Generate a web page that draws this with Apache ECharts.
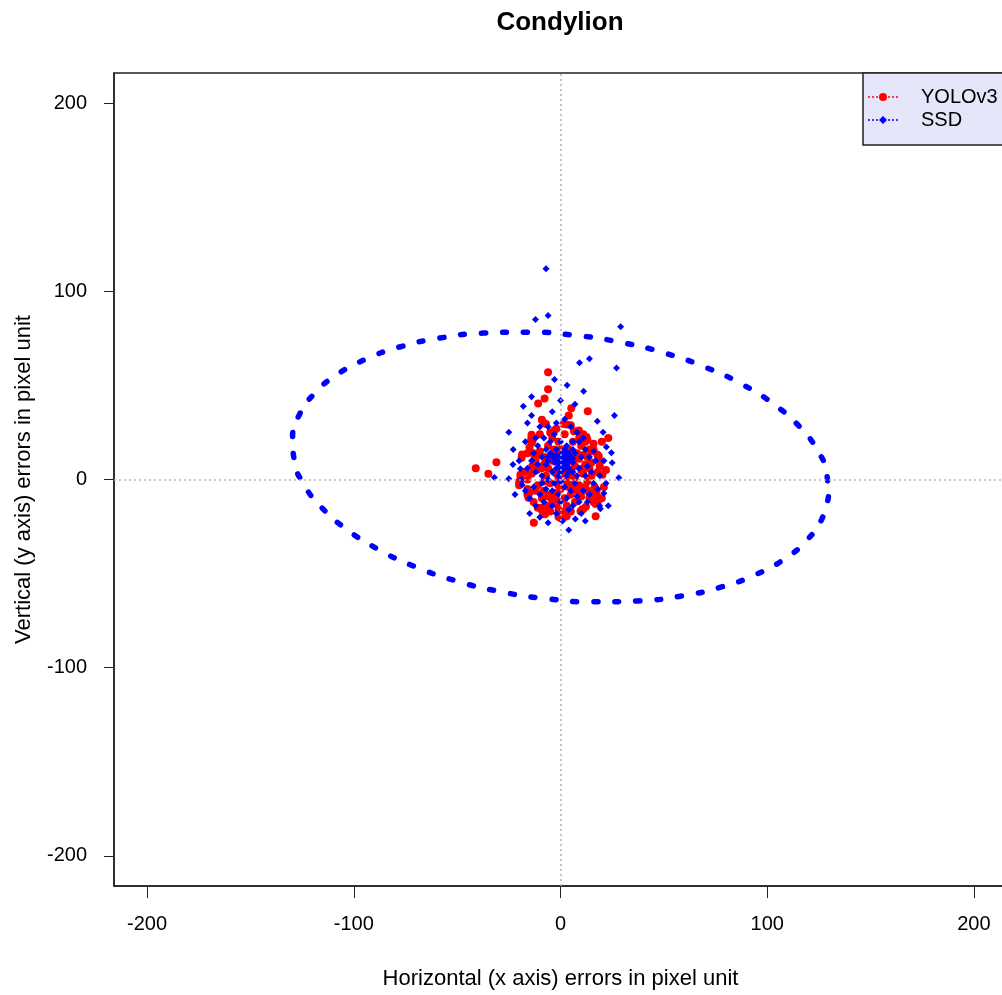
<!DOCTYPE html>
<html>
<head>
<meta charset="utf-8">
<title>Condylion</title>
<script src="https://cdn.jsdelivr.net/npm/echarts@6.0.0/dist/echarts.min.js"></script>
<style>
* {
  margin: 0;
  padding: 0;
}
#chartId {
  width: 1002px;
  height: 995px;
  background: #fff;
}
</style>
</head>
<body>
<div id="chartId"></div>
<script>
// tick positions on both axes
let tickValues = [-200, -100, 0, 100, 200];

// YOLOv3 errors [x, y] in pixel unit
let yoloPoints = [
  [-6, 57], [-6, 48], [-7.7, 43], [-10.8, 40.4], [5.2, 37.9], [13.2, 36.3], [4, 34], [-9, 31.7],
  [-8, 30], [-7, 29.5], [1.5, 29.5], [3, 29.2], [5, 28.8], [-14, 22.8], [-14.2, 21], [-14, 19.5],
  [6.5, 25.7], [8.9, 26], [11, 24], [12.6, 22.6], [23.1, 22.1], [-18.6, 13.3], [-18.8, 11.5],
  [-31, 9.2], [-41, 6], [-34.9, 3], [-19.4, 2.5], [-19.4, 0.7], [-19.5, -1], [17.8, 13.3],
  [18.2, 11.5], [16, 15.9], [20.3, 2.5], [-13.7, 7], [-11.4, 5], [-16, -8], [-15.5, -9.7],
  [-9.1, -15.9], [-8.3, -17.3], [-7.5, -18.5], [-12.9, -23], [-1, -19.8], [1, -20], [3, -19.5],
  [9.7, -16.9], [11, -15.7], [12.3, -14.5], [17, -19.5], [16.2, -5.3], [17, -7], [17.5, -8.5],
  [-10, 15], [-8, 12], [-6, 18], [-4, 10], [-2, 14], [0, 8], [2, 12], [4, 16], [6, 10], [8, 14],
  [10, 18], [12, 8], [-12, 10], [-9, 6], [-7, 2], [-5, -2], [-3, 4], [-1, 0], [1, 3], [3, -1],
  [5, 5], [7, 1], [9, -3], [11, 3], [13, -1], [14, 6], [-11, -3], [-8, -6], [-6, -9], [-3, -7],
  [0, -5], [2, -10], [5, -8], [7, -12], [10, -9], [-2, -13], [-4, -11], [3, -14], [8, -6],
  [12, -4], [15, 2], [-14, 3], [-12, -6], [-9, -10], [6, 20], [9, 22], [-4, 22], [-1, 20],
  [2, 24], [-10, 24], [-2, 3], [0, 11], [1, 6], [-1, -3], [4, 2], [6, -3], [-6, 6], [-8, -1],
  [3, 8], [-3, 16], [1, 16], [7, 7], [9, 11], [11, 13], [13, 12], [15, 9], [16, 19], [18, 4],
  [19, 7], [-16, 14], [-15, 17], [-13, 14], [22, 5], [21, -4], [20, -10], [18, -12], [14, -10],
  [-17, 4], [-16, 0], [-13, -12], [-11, -15], [-6, -14], [-1, -16], [2, -17], [5, -17],
  [-16, -5], [20, 20], [-5, 25],
  [-14, 23.8], [-13.6, 20.5], [-20, -1.5], [-20, -3], [16.5, -4], [17.5, -6], [-15, -7],
  [18.5, 12.5], [19, 10], [-9.5, -15], [-8.8, -16.5], [0, -20.5], [2, -19.8], [10.5, -16],
  [-12.5, 12], [-11, 13], [8, -4.5], [9, -5], [13, -6], [14, -7], [-2, -11], [-1, -12],
  [-5, -8], [-4, -9], [6, 12], [7, 13], [-7, 9], [-8, 8], [4, -4], [5, -3], [10, 5], [11, 6],
  [-3, 26], [-2, 27], [12, 20], [13, 21], [16, -12], [17, -13], [-6, -16], [-5, -17], [2, 4],
  [3, 5], [-1, 15], [0, 16], [14, 16], [15, 15]
];

// SSD errors [x, y] in pixel unit
let ssdPoints = [
  [-7, 112], [-12.1, 85], [-6, 87.1], [29.1, 81.1], [9.2, 62], [14, 64.1], [27.1, 59.3],
  [-2.9, 53.1], [3.2, 50.1], [11.2, 46.9], [-14, 44], [-18, 38.9], [-14, 34], [26.1, 34],
  [17.8, 31], [-25, 25.1], [-22.9, 15.9], [25, 8.9], [28.2, 0.9], [-32, 1.1], [-25, 0.4],
  [-14.9, -18.1], [-6, -23], [4, -26.9], [7.2, -21], [23.1, -14], [19, -14], [19.3, -15.5],
  [21, -7.3], [24.6, 14.2], [22.2, 17.3], [20.6, 25.1], [-18.6, -2.8], [-19.4, 5.7],
  [0, 10], [1, 11], [2, 9], [3, 12], [-1, 8], [1, 7], [2, 13], [0, 13], [-2, 11], [4, 10],
  [3, 8], [1, 9], [2, 11], [0, 6], [-1, 12], [5, 12], [-3, 9], [4, 14], [-2, 6], [6, 9],
  [-5, 14], [-7, 16], [-9, 12], [-11, 18], [-12, 22], [-8, 22], [-5, 20], [-3, 24], [0, 20],
  [3, 18], [6, 16], [9, 20], [12, 16], [14, 12], [11, 22], [8, 25], [-6, 28], [-2, 30],
  [2, 32], [-10, 28], [5, 28], [-14, 10], [-16, 6], [-12, 4], [-9, 2], [-6, 0], [-3, -2],
  [0, -1], [3, 2], [6, 4], [9, 6], [12, 2], [15, 4], [17, 10], [-13, -4], [-10, -8], [-7, -5],
  [-4, -6], [-1, -8], [2, -4], [5, -6], [8, -9], [11, -6], [14, -8], [16, -2], [-8, -12],
  [-4, -14], [0, -12], [3, -10], [6, -14], [9, -12], [-2, -18], [1, -22], [4, -16], [10, -18],
  [13, -12], [-12, -14], [-15, -10], [-17, -6], [-19, 0], [-20, 10], [-17, 20], [19, 2],
  [18, -5], [21, 10], [-11, 8], [-7, 8], [-4, 4], [-1, 2], [4, 4], [7, -2], [10, 12], [13, 7],
  [-6, 10], [-9, -2], [8, 2], [-2, 16], [2, 16], [6, 20], [-13, 14], [16, 15], [-23, 8],
  [-22, -8], [22, -2], [-4, 36], [7, 40], [0, 42], [-10, -20], [12, -22], [-16, 30],
  [1, 12], [2, 10], [3, 10], [0, 9], [-1, 10], [4, 12], [5, 10], [2, 8], [3, 14], [1, 14],
  [-2, 13], [6, 11], [-3, 11], [1, 5], [4, 6], [-4, 13], [7, 14], [-6, 12], [2, 6], [0, 4]
];

// SSD confidence ellipse outline, read around the curve
let ssdEllipse = [
  [129.6, -9.2], [126.4, -21.1], [119.3, -32.1], [108.7, -42.0], [94.7, -50.4], [77.9, -57.1],
  [58.6, -61.9], [37.7, -64.5], [15.5, -65.0], [-7.1, -63.3], [-29.5, -59.5], [-51.0, -53.7],
  [-70.9, -46.1], [-88.7, -36.8], [-103.8, -26.2], [-115.7, -14.7], [-124.2, -2.5],
  [-128.8, 10.0], [-129.6, 22.4], [-126.4, 34.3], [-119.3, 45.4], [-108.7, 55.3],
  [-94.7, 63.7], [-77.9, 70.4], [-58.6, 75.1], [-37.7, 77.8], [-15.5, 78.3], [7.1, 76.6],
  [29.5, 72.8], [51.0, 67.0], [70.9, 59.3], [88.7, 50.1], [103.8, 39.5], [115.7, 28.0],
  [124.2, 15.7], [128.8, 3.2], [129.6, -9.2]
];

let fontName = "'Liberation Sans', Arial, sans-serif";

let chart = echarts.init(document.getElementById("chartId"));

function makeAxis(name, isX) {
  return {
    type: "value",
    min: -216,
    max: 216,
    name: name,
    nameLocation: "middle",
    nameGap: isX ? 82 : 79,
    nameTextStyle: { color: "#000", fontSize: 22, fontFamily: fontName },
    axisLine: { show: true, onZero: false, lineStyle: { color: "#222", width: 1.5 } },
    axisTick: {
      show: true,
      customValues: tickValues,
      length: isX ? 12 : 10,
      lineStyle: { color: "#222", width: 1 }
    },
    axisLabel: {
      customValues: tickValues,
      margin: isX ? 28 : 27,
      color: "#000",
      fontSize: 20,
      fontFamily: fontName
    },
    splitLine: { show: false }
  };
}

let option = {
  backgroundColor: "#fff",
  animation: false,
  title: {
    text: "Condylion",
    left: 555,
    top: 5,
    textAlign: "center",
    textStyle: { color: "#000", fontSize: 26, fontWeight: "bold", fontFamily: fontName }
  },
  legend: {
    orient: "vertical",
    left: 863,
    top: 73,
    padding: [14, 30, 15, 5],
    itemGap: 3,
    itemWidth: 30,
    itemHeight: 8,
    backgroundColor: "#e6e6fa",
    borderColor: "#222",
    borderWidth: 1.5,
    textStyle: {
      color: "#000",
      fontSize: 20,
      lineHeight: 20,
      fontFamily: fontName,
      padding: [0, 0, 0, 18]
    },
    data: [
      {
        name: "YOLOv3",
        icon: "path://M0 3.3h2v1.4h-2z M4 3.3h2v1.4h-2z M8 3.3h2v1.4h-2z M20 3.3h2v1.4h-2z M24 3.3h2v1.4h-2z M28 3.3h2v1.4h-2z M11 4a4 4 0 1 0 8 0a4 4 0 1 0 -8 0z"
      },
      {
        name: "SSD",
        icon: "path://M0 3.3h2v1.4h-2z M4 3.3h2v1.4h-2z M8 3.3h2v1.4h-2z M20 3.3h2v1.4h-2z M24 3.3h2v1.4h-2z M28 3.3h2v1.4h-2z M15 0L19 4L15 8L11 4Z"
      }
    ]
  },
  grid: {
    left: 114,
    top: 73,
    width: 893,
    height: 813,
    outerBoundsMode: "none", // box runs past the right edge, like the original
    show: true,
    borderColor: "#222",
    borderWidth: 1.5,
    backgroundColor: "transparent"
  },
  xAxis: makeAxis("Horizontal (x axis) errors in pixel unit", true),
  yAxis: makeAxis("Vertical (y axis) errors in pixel unit", false),
  series: [
    {
      // dotted reference lines at zero
      name: "zero",
      type: "scatter",
      data: [],
      z: 1,
      markLine: {
        silent: true,
        symbol: ["none", "none"],
        label: { show: false },
        lineStyle: { color: "#b4b4b4", type: [2, 3], width: 1.5 },
        data: [{ xAxis: 0 }, { yAxis: 0 }]
      }
    },
    {
      name: "SSD ellipse",
      type: "line",
      data: ssdEllipse,
      smooth: true,
      showSymbol: false,
      z: 2,
      lineStyle: { color: "#0000ff", width: 5.5, type: [4, 17], cap: "round" }
    },
    {
      name: "YOLOv3",
      type: "scatter",
      data: yoloPoints,
      symbol: "circle",
      symbolSize: 8,
      z: 3,
      itemStyle: { color: "#ff0000", opacity: 1 }
    },
    {
      name: "SSD",
      type: "scatter",
      data: ssdPoints,
      symbol: "diamond",
      symbolSize: 7,
      z: 4,
      itemStyle: { color: "#0000ff", opacity: 1 }
    }
  ]
};

chart.setOption(option);
</script>
</body>
</html>
